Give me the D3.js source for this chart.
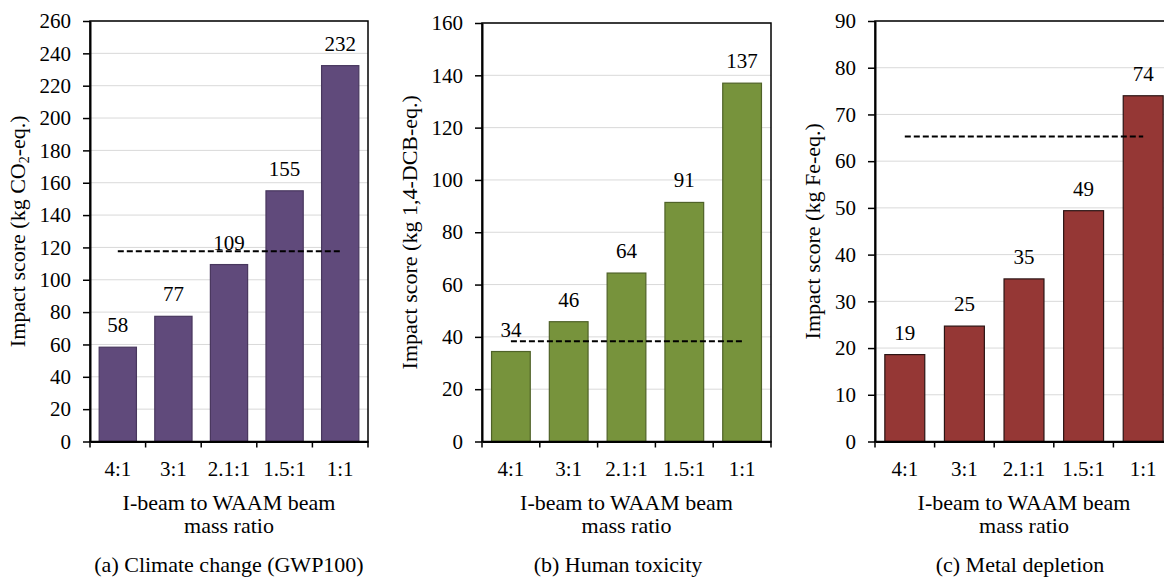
<!DOCTYPE html>
<html>
<head>
<meta charset="utf-8">
<script src="https://cdn.jsdelivr.net/npm/d3@7"></script>
<style>
  html, body { margin: 0; padding: 0; background: #fff; }
  svg { display: block; }
  svg text { font-family: "Liberation Serif", "Times New Roman", Times, serif !important; fill: #000; }
</style>
</head>
<body>
<svg id="chart" width="1164" height="577"></svg>
<script>
// ---------------- DATA ----------------
const categories = ["4:1", "3:1", "2.1:1", "1.5:1", "1:1"];

const climateValues = [58.3, 77.4, 109.4, 155.0, 232.4];
const climateLabels = ["58", "77", "109", "155", "232"];
const climateRef = 117.6;
const climateTicks = [0, 20, 40, 60, 80, 100, 120, 140, 160, 180, 200, 220, 240, 260];

const toxicityValues = [34.4, 45.8, 64.4, 91.4, 137.0];
const toxicityLabels = ["34", "46", "64", "91", "137"];
const toxicityRef = 38.3;
const toxicityTicks = [0, 20, 40, 60, 80, 100, 120, 140, 160];

const metalValues = [18.6, 24.7, 34.8, 49.4, 74.0];
const metalLabels = ["19", "25", "35", "49", "74"];
const metalRef = 65.3;
const metalTicks = [0, 10, 20, 30, 40, 50, 60, 70, 80, 90];

const xTitleLines = ["I-beam to WAAM beam", "mass ratio"];

// ---------------- LAYOUT ----------------
const panels = [
  { values: climateValues, labels: climateLabels, ref: climateRef, ticks: climateTicks,
    fill: "#604a7b", stroke: "#48375e",
    yTitle: [["Impact score (kg CO", null], ["2", "sub"], ["-eq.)", null]],
    caption: "(a) Climate change (GWP100)",
    x0: 90, x1: 368, y0: 21, y1: 441.5, yTitleX: 25, captionX: 229 },
  { values: toxicityValues, labels: toxicityLabels, ref: toxicityRef, ticks: toxicityTicks,
    fill: "#77933c", stroke: "#4f6228",
    yTitle: [["Impact score (kg 1,4-DCB-eq.)", null]],
    caption: "(b) Human toxicity",
    x0: 482, x1: 771, y0: 23, y1: 441.5, yTitleX: 417, captionX: 618 },
  { values: metalValues, labels: metalLabels, ref: metalRef, ticks: metalTicks,
    fill: "#953735", stroke: "#2b1414",
    yTitle: [["Impact score (kg Fe-eq.)", null]],
    caption: "(c) Metal depletion",
    x0: 875, x1: 1173, y0: 21, y1: 441.5, yTitleX: 820, captionX: 1020 }
];

const svg = d3.select("#chart");
const tickFont = 21, titleFont = 22;

panels.forEach(p => {
  const g = svg.append("g");
  const x = d3.scaleBand().domain(categories).range([p.x0, p.x1])
    .paddingInner(0.33).paddingOuter(0.165);
  const y = d3.scaleLinear().domain([0, p.ticks[p.ticks.length - 1]]).range([p.y1, p.y0]);
  const step = x.step();
  const bw = x.bandwidth();

  // gridlines
  g.append("g").selectAll("line").data(p.ticks.filter(t => t > 0))
    .join("line")
    .attr("x1", p.x0).attr("x2", p.x1)
    .attr("y1", d => y(d)).attr("y2", d => y(d))
    .attr("stroke", "#d9d9d9").attr("stroke-width", 1);

  // bars
  g.append("g").selectAll("rect").data(p.values)
    .join("rect")
    .attr("x", (d, i) => x(categories[i]))
    .attr("y", d => y(d))
    .attr("width", bw)
    .attr("height", d => y(0) - y(d))
    .attr("fill", p.fill)
    .attr("stroke", p.stroke)
    .attr("stroke-width", 1.2);

  // reference dashed line
  g.append("line")
    .attr("x1", x(categories[0]) + bw / 2)
    .attr("x2", x(categories[categories.length - 1]) + bw / 2)
    .attr("y1", y(p.ref)).attr("y2", y(p.ref))
    .attr("stroke", "#000").attr("stroke-width", 2)
    .attr("stroke-dasharray", "6,3");

  // value labels
  g.append("g").selectAll("text").data(p.values)
    .join("text")
    .attr("x", (d, i) => x(categories[i]) + bw / 2)
    .attr("y", d => y(d) - 15)
    .attr("text-anchor", "middle")
    .attr("font-size", tickFont)
    .text((d, i) => p.labels[i]);

  // plot frame
  g.append("rect")
    .attr("x", p.x0).attr("y", p.y0)
    .attr("width", p.x1 - p.x0).attr("height", p.y1 - p.y0)
    .attr("fill", "none").attr("stroke", "#000").attr("stroke-width", 1.5);

  // y axis
  const yAxis = g.append("g")
    .attr("transform", `translate(${p.x0},0)`)
    .call(d3.axisLeft(y).tickValues(p.ticks).tickSize(7).tickSizeOuter(0).tickPadding(12));
  yAxis.select(".domain").attr("stroke", "#000").attr("stroke-width", 2);
  yAxis.selectAll(".tick line").attr("stroke", "#000").attr("stroke-width", 1.5);
  yAxis.selectAll(".tick text").attr("font-size", tickFont);

  // x axis
  const xAxis = g.append("g")
    .attr("transform", `translate(0,${p.y1})`)
    .call(d3.axisBottom(x).tickSize(0).tickSizeOuter(0).tickPadding(20));
  xAxis.select(".domain").attr("stroke", "#000").attr("stroke-width", 2);
  xAxis.selectAll(".tick text").attr("font-size", tickFont);

  // boundary ticks on x axis
  g.append("g").selectAll("line").data(d3.range(categories.length + 1))
    .join("line")
    .attr("x1", i => p.x0 + i * step).attr("x2", i => p.x0 + i * step)
    .attr("y1", p.y1).attr("y2", p.y1 + 6)
    .attr("stroke", "#000").attr("stroke-width", 1.5);

  // x title
  const cx = (p.x0 + p.x1) / 2;
  xTitleLines.forEach((line, i) => {
    g.append("text")
      .attr("x", cx).attr("y", 510 + i * 23)
      .attr("text-anchor", "middle")
      .attr("font-size", titleFont)
      .text(line);
  });

  // y title
  const yt = g.append("text")
    .attr("transform", `translate(${p.yTitleX},${(p.y0 + p.y1) / 2}) rotate(-90)`)
    .attr("text-anchor", "middle")
    .attr("font-size", titleFont);
  p.yTitle.forEach(([txt, kind], idx) => {
    const ts = yt.append("tspan").text(txt);
    if (kind === "sub") {
      ts.attr("font-size", 14).attr("dy", 4);
    } else if (idx > 0) {
      ts.attr("dy", -4);
    }
  });

  // caption
  g.append("text")
    .attr("x", p.captionX).attr("y", 572)
    .attr("text-anchor", "middle")
    .attr("font-size", titleFont)
    .text(p.caption);
});
</script>
</body>
</html>
